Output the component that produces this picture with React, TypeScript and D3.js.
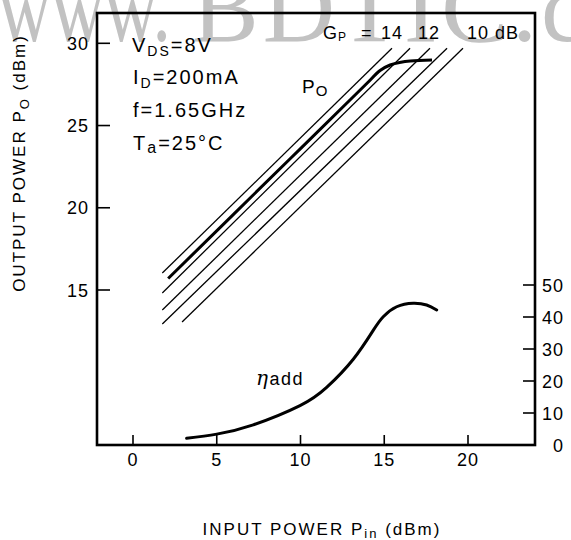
import React from 'react';
import * as d3 from 'd3';

// ---------- data ----------
const xTicks = [0, 5, 10, 15, 20];
const yTicks = [15, 20, 25, 30];
const effTicks = [0, 10, 20, 30, 40, 50];

// constant-gain lines (Gp = 14 ... 10 dB), endpoints [Pin, Po]
const gainLineStart: [number, number][] = [[1.75, 16.03], [1.75, 14.82], [1.75, 13.78], [1.75, 12.93], [2.93, 13.05]];
const gainLineEnd: [number, number][] = [[15.46, 29.7], [16.54, 29.7], [17.73, 29.7], [18.75, 29.7], [19.7, 29.7]];
const gainLabels = ['14', '12', '10 dB'];

// output power curve
const poPin = [2.1, 6, 10, 13, 14, 14.75, 15.35, 16.0, 16.55, 17.85];
const poOut = [15.7, 19.6, 23.6, 26.6, 27.6, 28.35, 28.68, 28.85, 28.92, 28.98];

// added efficiency curve (%)
const effPin = [3.2, 5.0, 7.18, 9.97, 11.56, 13.15, 14.35, 14.94, 15.74, 16.73, 17.53, 18.13];
const effVal = [2.1, 3.4, 6.3, 12.3, 18.0, 26.8, 35.9, 40.1, 43.2, 44.3, 43.75, 42.2];

const FONT = '"Liberation Sans", Arial, Helvetica, sans-serif';
const SERIF = '"Liberation Serif", "Times New Roman", serif';

export default function App() {
  const W = 571, H = 540;
  const L = 97, R = 535, T = 13, B = 445;

  const x = d3.scaleLinear().domain([0, 20]).range([133, 468]);
  const y = d3.scaleLinear().domain([15, 30]).range([290, 43.3]);
  const yE = d3.scaleLinear().domain([0, 50]).range([445, 285]);

  const poLine = d3.line<number>()
    .x((_, i) => x(poPin[i]))
    .y((_, i) => y(poOut[i]))
    .curve(d3.curveMonotoneX);
  const effLine = d3.line<number>()
    .x((_, i) => x(effPin[i]))
    .y((_, i) => yE(effVal[i]))
    .curve(d3.curveNatural);

  return (
    <svg width={W} height={H} viewBox={`0 0 ${W} ${H}`}
      style={{ position: 'absolute', left: 0, top: 0, background: '#fff', overflow: 'hidden' }}>
      {/* watermark */}
      <g fontFamily={SERIF} fontSize={100} fill="#c2c2c2">
        <text x={-2} y={41} textLength={173} lengthAdjust="spacingAndGlyphs">www.</text>
        <text x={192} y={41} letterSpacing={4}>BDTIC.com</text>
      </g>

      {/* frame */}
      <rect x={L} y={T} width={R - L} height={B - T} fill="none" stroke="#000" strokeWidth={2.6} />

      {/* x ticks */}
      {xTicks.map(t => (
        <g key={'x' + t}>
          <line x1={x(t)} x2={x(t)} y1={B} y2={B - 10} stroke="#000" strokeWidth={1.6} />
          <text x={x(t)} y={466} textAnchor="middle" fontFamily={FONT} fontSize={18} letterSpacing={1}>{t}</text>
        </g>
      ))}
      {/* left ticks */}
      {yTicks.map(t => (
        <g key={'y' + t}>
          <line x1={L} x2={L + 13} y1={y(t)} y2={y(t)} stroke="#000" strokeWidth={1.6} />
          <text x={89} y={y(t) + 6.5} textAnchor="end" fontFamily={FONT} fontSize={18} letterSpacing={1}>{t}</text>
        </g>
      ))}
      {/* right ticks */}
      {effTicks.map(t => (
        <g key={'e' + t}>
          {t > 0 && <line x1={R - 12} x2={R} y1={yE(t)} y2={yE(t)} stroke="#000" strokeWidth={1.6} />}
          <text x={564} y={yE(t) + 6.5} textAnchor="end" fontFamily={FONT} fontSize={18} letterSpacing={1}>{t}</text>
        </g>
      ))}

      {/* gain lines */}
      {gainLineStart.map((s, i) => (
        <line key={'g' + i} x1={x(s[0])} y1={y(s[1])} x2={x(gainLineEnd[i][0])} y2={y(gainLineEnd[i][1])}
          stroke="#000" strokeWidth={1.3} />
      ))}

      {/* Po curve */}
      <path d={poLine(poPin) || ''} fill="none" stroke="#000" strokeWidth={3} />
      {/* efficiency curve */}
      <path d={effLine(effPin) || ''} fill="none" stroke="#000" strokeWidth={3} strokeLinecap="round" />

      {/* conditions */}
      <g fontFamily={FONT} fontSize={20} letterSpacing={2}>
        <text x={132} y={52}>V<tspan fontSize={14} dy={4}>DS</tspan><tspan dy={-4}>=8V</tspan></text>
        <text x={133} y={84}>I<tspan fontSize={14} dy={4}>D</tspan><tspan dy={-4}>=200mA</tspan></text>
        <text x={133} y={117}>f=1.65GHz</text>
        <text x={133} y={150}>T<tspan fontSize={16} dy={3}>a</tspan><tspan dy={-3}>=25°C</tspan></text>
      </g>

      {/* Po label */}
      <text x={302} y={93} fontFamily={FONT} fontSize={19} letterSpacing={1}>P<tspan fontSize={15} dy={3}>O</tspan></text>

      {/* Gp labels */}
      <g fontFamily={FONT} fontSize={18} letterSpacing={1}>
        <text x={323} y={39}>G<tspan fontSize={12} dy={2}>P</tspan></text>
        <text x={361} y={39}>=</text>
        <text x={381} y={39}>{gainLabels[0]}</text>
        <text x={418} y={39}>{gainLabels[1]}</text>
        <text x={467} y={39}>{gainLabels[2]}</text>
      </g>

      {/* eta label */}
      <text x={256} y={385} fontFamily={FONT} fontSize={18} letterSpacing={1.5}>
        <tspan fontFamily='"DejaVu Serif", serif' fontStyle="italic" fontSize={20}>η</tspan>add
      </text>

      {/* axis titles */}
      <text x={322} y={535} textAnchor="middle" fontFamily={FONT} fontSize={17} letterSpacing={2}>
        INPUT POWER P<tspan fontSize={13} dy={3}>in</tspan><tspan dy={-3}> (dBm)</tspan>
      </text>
      <text transform="translate(25,163) rotate(-90)" textAnchor="middle" fontFamily={FONT} fontSize={17} letterSpacing={2}>
        OUTPUT POWER P<tspan fontSize={13} dy={4}>O</tspan><tspan dy={-4}> (dBm)</tspan>
      </text>
    </svg>
  );
}
